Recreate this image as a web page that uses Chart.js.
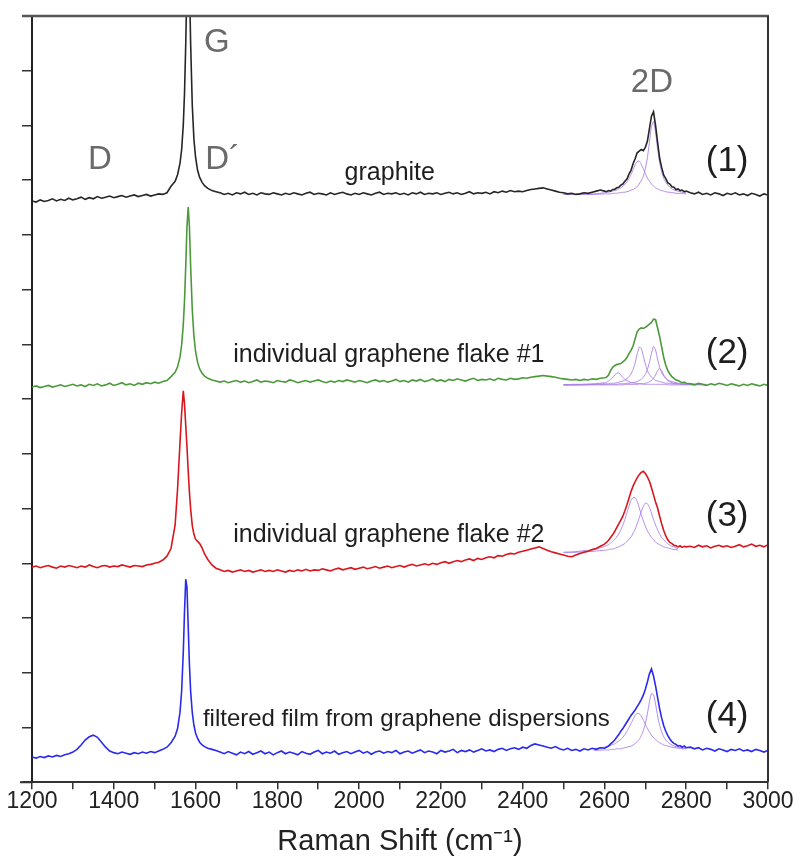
<!DOCTYPE html>
<html>
<head>
<meta charset="utf-8">
<script src="https://cdn.jsdelivr.net/npm/chart.js@4.4.1/dist/chart.umd.min.js"></script>
<style>
  html,body{margin:0;padding:0;background:#fff;}
  canvas{display:block;}
</style>
</head>
<body>
<canvas id="raman" width="795" height="861"></canvas>
<script>
/* Raman spectra, graphite vs graphene samples (stacked, offset intensities) */

// shared x grid (cm-1), finer around G and 2D
const ramanShift = [
  1200,1210,1220,1230,1240,1250,1260,1270,1280,1290,
  1300,1310,1320,1330,1340,1350,1360,1370,1380,1390,
  1400,1410,1420,1430,1440,1450,1460,1470,1480,1490,
  1500,1510,1520,1530,
  1540,1550,1556,1562,1566,1570,1573,1576,1579,1582,1585,1588,1592,1596,1600,1605,1610,1616,1622,1630,1640,1650,
  1660,1670,1680,1690,1700,1710,1720,1730,1740,1750,
  1760,1770,1780,1790,1800,1810,1820,1830,1840,1850,
  1860,1870,1880,1890,1900,1910,1920,1930,1940,1950,
  1960,1970,1980,1990,2000,2010,2020,2030,2040,2050,
  2060,2070,2080,2090,2100,2110,2120,2130,2140,2150,
  2160,2170,2180,2190,2200,2210,2220,2230,2240,2250,
  2260,2270,2280,2290,2300,2310,2320,2330,2340,2350,
  2360,2370,2380,
  2390,2400,2410,2420,2430,2440,2450,2460,2470,2480,2490,2500,2510,2520,2530,2540,2550,2560,2570,2580,2590,
  2600,2605,2610,2615,2620,2625,2630,2635,2640,2645,
  2650,2655,2660,2665,2670,2675,2680,2685,2690,2695,
  2700,2705,2710,2715,2720,2725,2730,2735,2740,2745,
  2750,2755,2760,2765,2770,2775,2780,2785,2790,2795,
  2800,
  2810,2820,2830,2840,2850,2860,2870,2880,2890,2900,
  2910,2920,2930,2940,2950,2960,2970,2980,2990,3000
];

// (1) graphite
const graphite = [
  10.62,10.60,10.64,10.61,10.63,10.66,10.62,10.65,10.63,10.67,
  10.64,10.66,10.69,10.65,10.68,10.66,10.70,10.67,10.69,10.71,
  10.68,10.70,10.72,10.69,10.71,10.73,10.70,10.72,10.74,10.71,
  10.73,10.75,10.74,10.77,
  10.89,10.98,11.10,11.31,11.56,12.01,12.59,13.49,14.63,15.25,14.63,13.49,12.37,11.75,11.42,11.18,11.05,10.96,10.90,10.85,10.81,10.79,
  10.77,10.74,10.76,10.73,10.77,10.75,10.78,10.74,10.76,10.73,
  10.77,10.75,10.74,10.77,10.75,10.73,10.76,10.74,10.77,10.75,
  10.73,10.76,10.78,10.74,10.76,10.75,10.73,10.77,10.74,10.76,
  10.78,10.75,10.73,10.76,10.74,10.77,10.75,10.73,10.76,10.78,
  10.74,10.76,10.75,10.77,10.74,10.76,10.73,10.77,10.75,10.78,
  10.74,10.76,10.75,10.77,10.74,10.76,10.78,10.75,10.77,10.74,
  10.76,10.79,10.75,10.77,10.76,10.78,10.75,10.79,10.77,10.80,
  10.78,10.81,10.79,
  10.80,10.79,10.81,10.83,10.84,10.85,10.86,10.84,10.82,10.80,10.78,10.77,10.75,10.76,10.74,10.75,10.77,10.76,10.78,10.80,10.82,
  10.80,10.79,10.81,10.80,10.83,10.83,10.86,10.87,10.91,10.93,
  10.98,11.02,11.11,11.18,11.30,11.39,11.50,11.53,11.56,11.54,
  11.60,11.71,11.94,12.17,12.25,12.00,11.69,11.40,11.23,11.09,
  11.03,10.95,10.93,10.88,10.87,10.83,10.84,10.81,10.82,10.79,
  10.80,
  10.77,10.75,10.78,10.74,10.76,10.73,10.77,10.75,10.72,10.76,
  10.74,10.77,10.73,10.75,10.72,10.76,10.74,10.71,10.75,10.73
];

// (2) individual graphene flake #1
const flake1 = [
  7.22,7.24,7.21,7.23,7.25,7.22,7.24,7.26,7.23,7.25,
  7.27,7.24,7.26,7.23,7.27,7.25,7.28,7.24,7.26,7.29,
  7.25,7.27,7.30,7.26,7.28,7.25,7.29,7.27,7.30,7.28,
  7.31,7.29,7.32,7.34,
  7.41,7.49,7.59,7.77,7.99,8.36,8.80,9.43,10.15,10.51,10.15,9.43,8.63,8.15,7.87,7.67,7.55,7.47,7.42,7.38,7.35,7.33,
  7.31,7.33,7.30,7.32,7.34,7.31,7.33,7.30,7.32,7.35,
  7.31,7.33,7.32,7.30,7.34,7.32,7.31,7.35,7.33,7.30,
  7.32,7.34,7.31,7.33,7.35,7.32,7.30,7.33,7.31,7.34,
  7.32,7.35,7.33,7.31,7.34,7.32,7.30,7.33,7.35,7.32,
  7.34,7.31,7.33,7.36,7.32,7.34,7.31,7.35,7.33,7.36,
  7.32,7.34,7.37,7.33,7.35,7.32,7.36,7.34,7.37,7.35,
  7.33,7.36,7.38,7.34,7.36,7.35,7.37,7.34,7.38,7.36,
  7.35,7.38,7.36,
  7.37,7.39,7.38,7.40,7.41,7.42,7.43,7.42,7.41,7.40,7.38,7.37,7.36,7.35,7.36,7.34,7.36,7.35,7.37,7.36,7.38,
  7.39,7.40,7.44,7.52,7.58,7.61,7.63,7.64,7.65,7.68,
  7.71,7.76,7.83,7.89,7.97,8.10,8.23,8.28,8.30,8.29,
  8.31,8.34,8.37,8.40,8.46,8.45,8.30,8.14,7.95,7.76,
  7.62,7.52,7.46,7.41,7.38,7.35,7.34,7.32,7.30,7.31,
  7.29,
  7.28,7.26,7.29,7.27,7.25,7.28,7.26,7.29,7.27,7.25,
  7.28,7.26,7.24,7.27,7.25,7.28,7.26,7.24,7.27,7.25
];

// (3) individual graphene flake #2
const flake2 = [
  3.93,3.95,3.92,3.94,3.96,3.93,3.91,3.95,3.93,3.96,
  3.94,3.92,3.95,3.93,3.97,3.94,3.92,3.95,3.96,3.93,
  3.95,3.94,3.97,3.95,3.93,3.96,3.95,3.94,3.97,3.98,
  4.00,4.02,4.06,4.13,
  4.27,4.70,5.36,6.21,6.75,7.15,6.91,6.52,6.13,5.69,5.30,4.99,4.69,4.53,4.44,4.40,4.36,4.28,4.17,4.07,3.97,3.91,
  3.88,3.85,3.87,3.84,3.86,3.88,3.85,3.87,3.84,3.86,
  3.88,3.85,3.87,3.85,3.88,3.86,3.84,3.87,3.85,3.88,
  3.86,3.89,3.86,3.88,3.87,3.90,3.88,3.86,3.89,3.91,
  3.88,3.90,3.92,3.89,3.91,3.93,3.90,3.92,3.94,3.91,
  3.93,3.95,3.92,3.94,3.96,3.93,3.96,3.98,3.95,3.97,
  3.99,3.97,4.00,3.98,4.01,4.03,4.00,4.03,4.05,4.03,
  4.06,4.08,4.05,4.09,4.07,4.10,4.12,4.10,4.14,4.13,
  4.16,4.18,4.17,
  4.20,4.22,4.24,4.26,4.28,4.30,4.27,4.24,4.21,4.19,4.17,4.15,4.13,4.12,4.15,4.18,4.20,4.22,4.25,4.27,4.31,
  4.35,4.38,4.42,4.47,4.52,4.58,4.65,4.72,4.79,4.86,
  4.96,5.07,5.19,5.31,5.41,5.49,5.56,5.62,5.66,5.68,
  5.64,5.58,5.50,5.38,5.25,5.12,5.01,4.86,4.72,4.60,
  4.50,4.43,4.38,4.36,4.33,4.32,4.30,4.32,4.29,4.31,
  4.30,
  4.31,4.29,4.33,4.30,4.32,4.28,4.31,4.33,4.30,4.32,
  4.29,4.31,4.34,4.30,4.32,4.35,4.31,4.33,4.30,4.34
];

// (4) filtered film from graphene dispersions
const filteredFilm = [
  0.46,0.44,0.47,0.45,0.48,0.46,0.49,0.47,0.50,0.52,
  0.55,0.60,0.68,0.77,0.83,0.86,0.82,0.73,0.64,0.57,
  0.54,0.52,0.55,0.53,0.51,0.54,0.52,0.55,0.53,0.56,
  0.54,0.57,0.60,0.64,
  0.72,0.84,0.98,1.28,1.67,2.38,3.12,3.71,3.56,2.85,2.15,1.66,1.27,1.04,0.90,0.80,0.73,0.68,0.65,0.62,0.60,0.58,
  0.55,0.52,0.56,0.53,0.50,0.55,0.52,0.56,0.51,0.54,
  0.57,0.52,0.55,0.50,0.54,0.57,0.52,0.55,0.53,0.50,
  0.56,0.53,0.51,0.55,0.58,0.52,0.55,0.53,0.57,0.51,
  0.54,0.56,0.52,0.55,0.58,0.53,0.56,0.51,0.55,0.57,
  0.53,0.56,0.54,0.58,0.52,0.55,0.57,0.53,0.56,0.59,
  0.54,0.57,0.55,0.52,0.58,0.55,0.57,0.60,0.54,0.58,
  0.56,0.59,0.55,0.58,0.61,0.57,0.59,0.56,0.60,0.62,
  0.58,0.61,0.63,
  0.60,0.64,0.62,0.67,0.70,0.68,0.66,0.64,0.62,0.65,0.61,0.59,0.62,0.58,0.60,0.57,0.61,0.59,0.62,0.60,0.63,
  0.62,0.64,0.66,0.70,0.73,0.77,0.82,0.87,0.93,0.98,
  1.04,1.10,1.16,1.22,1.27,1.32,1.38,1.44,1.51,1.59,
  1.70,1.83,1.98,2.07,1.94,1.76,1.55,1.34,1.17,1.03,
  0.93,0.85,0.79,0.74,0.71,0.69,0.66,0.67,0.64,0.66,
  0.63,
  0.64,0.61,0.63,0.59,0.62,0.60,0.57,0.61,0.59,0.56,
  0.60,0.58,0.61,0.57,0.59,0.56,0.60,0.58,0.55,0.58
];

// x grid of the fitted 2D components
const fitShift = [
  2500,2525,2550,2575,
  2600,2605,2610,2615,2620,2625,2630,2635,2640,2645,
  2650,2655,2660,2665,2670,2675,2680,2685,2690,2695,
  2700,2705,2710,2715,2720,2725,2730,2735,2740,2745,
  2750,2755,2760,2765,2770,2775,2780,2785,2790,2795,
  2800,2825,2850
];

const graphiteFit1 = [
  10.74,10.74,10.75,10.75,
  10.77,10.78,10.78,10.79,10.80,10.81,10.82,10.84,10.86,10.89,
  10.92,10.97,11.03,11.10,11.19,11.28,11.34,11.35,11.29,11.21,
  11.12,11.04,10.98,10.93,10.89,10.86,10.84,10.82,10.81,10.80,
  10.79,10.78,10.78,10.77,10.77,10.76,10.76,10.76,10.76,10.75,
  10.75,null,null
];
const graphiteFit2 = [
  10.74,10.74,10.74,10.74,
  10.75,10.75,10.75,10.75,10.76,10.76,10.76,10.77,10.77,10.78,
  10.78,10.79,10.80,10.82,10.83,10.85,10.88,10.93,10.99,11.07,
  11.21,11.41,11.69,11.98,12.07,11.87,11.57,11.32,11.15,11.03,
  10.96,10.91,10.87,10.84,10.82,10.81,10.80,10.79,10.78,10.77,
  10.77,null,null
];

const flake1Fit1 = [
  7.26,7.26,7.27,7.28,
  7.30,7.31,7.33,7.36,7.39,7.44,7.47,7.48,7.44,7.40,
  7.36,7.34,7.32,7.30,7.30,7.29,7.28,7.28,7.28,7.27,
  7.27,7.27,7.27,7.27,7.27,7.27,7.27,7.27,7.27,7.27,
  7.27,7.26,7.26,7.26,7.26,7.26,7.26,7.26,7.26,7.26,
  7.26,7.26,7.26
];
const flake1Fit2 = [
  7.26,7.27,7.27,7.27,
  7.28,7.28,7.28,7.29,7.29,7.29,7.30,7.31,7.32,7.33,
  7.35,7.37,7.41,7.46,7.54,7.66,7.82,7.95,7.93,7.79,
  7.64,7.52,7.45,7.40,7.37,7.34,7.33,7.32,7.31,7.30,
  7.29,7.29,7.29,7.28,7.28,7.28,7.28,7.27,7.27,7.27,
  7.27,7.27,7.26
];
const flake1Fit3 = [
  7.26,7.26,7.26,7.27,
  7.27,7.27,7.27,7.27,7.27,7.27,7.27,7.28,7.28,7.28,
  7.28,7.29,7.29,7.30,7.30,7.31,7.32,7.34,7.36,7.40,
  7.45,7.54,7.67,7.84,7.96,7.90,7.73,7.58,7.48,7.42,
  7.38,7.35,7.33,7.32,7.31,7.30,7.29,7.29,7.28,7.28,
  7.28,7.27,7.27
];
const flake1Fit4 = [
  7.26,7.26,7.26,7.26,
  7.26,7.26,7.26,7.26,7.26,7.26,7.26,7.26,7.26,7.26,
  7.27,7.27,7.27,7.27,7.27,7.27,7.27,7.28,7.28,7.28,
  7.29,7.30,7.32,7.34,7.38,7.44,7.52,7.56,7.52,7.44,
  7.38,7.34,7.32,7.30,7.29,7.28,7.28,7.28,7.27,7.27,
  7.27,7.27,7.26
];

const flake2Fit1 = [
  4.20,4.21,4.23,4.25,
  4.31,4.32,4.34,4.37,4.40,4.44,4.48,4.54,4.61,4.70,
  4.80,4.92,5.04,5.15,5.20,5.20,5.13,5.02,4.89,4.78,
  4.68,4.59,4.53,4.47,4.43,4.39,4.36,4.34,4.32,4.30,
  4.29,4.28,4.27,4.26,4.25,4.25,4.24,null,null,null,
  null,null,null
];
const flake2Fit2 = [
  4.20,4.20,4.21,4.22,
  4.24,4.24,4.25,4.26,4.26,4.27,4.29,4.30,4.32,4.34,
  4.36,4.40,4.44,4.48,4.55,4.62,4.72,4.83,4.94,5.04,
  5.10,5.09,5.02,4.92,4.80,4.70,4.61,4.53,4.47,4.43,
  4.39,4.36,4.33,4.31,4.30,4.28,4.27,null,null,null,
  null,null,null
];

const filmFit1 = [
  null,null,null,0.61,
  0.64,0.65,0.66,0.67,0.69,0.70,0.73,0.75,0.78,0.82,
  0.87,0.93,1.00,1.07,1.15,1.22,1.26,1.25,1.21,1.14,
  1.06,0.98,0.92,0.86,0.81,0.78,0.75,0.72,0.70,0.68,
  0.67,0.66,0.65,0.64,0.63,0.63,0.62,0.62,0.61,0.61,
  0.61,null,null
];
const filmFit2 = [
  null,null,null,0.58,
  0.59,0.59,0.59,0.60,0.60,0.60,0.61,0.61,0.61,0.62,
  0.63,0.64,0.65,0.66,0.68,0.71,0.74,0.78,0.85,0.94,
  1.07,1.25,1.47,1.62,1.60,1.43,1.21,1.04,0.92,0.83,
  0.77,0.73,0.70,0.68,0.66,0.65,0.64,0.63,0.62,0.62,
  0.62,null,null
];

const xTicks = [1200,1300,1400,1500,1600,1700,1800,1900,2000,2100,2200,2300,2400,2500,2600,2700,2800,2900,3000];
const xTickLabels = ['1200','','1400','','1600','','1800','','2000','','2200','','2400','','2600','','2800','','3000'];
const yTicks = [0,1,2,3,4,5,6,7,8,9,10,11,12,13,14];

const FONT = '"Liberation Sans", Arial, Helvetica, sans-serif';

// text placed in data coordinates
const notes = [
  {text:'G',  x:1652, y:13.50, size:33, color:'#6a6a6a'},
  {text:'D',  x:1366, y:11.37, size:33, color:'#6a6a6a'},
  {text:'D´', x:1666, y:11.37, size:33, color:'#6a6a6a'},
  {text:'2D', x:2716, y:12.77, size:33, color:'#6a6a6a'},
  {text:'graphite', x:2075, y:11.13, size:25, color:'#1e1e1e'},
  {text:'individual graphene flake #1', x:1692, y:7.81, size:25, color:'#1e1e1e', align:'left'},
  {text:'individual graphene flake #2', x:1692, y:4.51, size:25, color:'#1e1e1e', align:'left'},
  {text:'filtered film from graphene dispersions', x:1618, y:1.15, size:24, color:'#1e1e1e', align:'left'},
  {text:'(1)', x:2900, y:11.35, size:35, color:'#1e1e1e'},
  {text:'(2)', x:2900, y:7.83, size:35, color:'#1e1e1e'},
  {text:'(3)', x:2900, y:4.85, size:35, color:'#1e1e1e'},
  {text:'(4)', x:2900, y:1.20, size:35, color:'#1e1e1e'}
];

function pts(xs, ys){
  return xs.map((x,i)=>({x:x, y:ys[i]}));
}

function spectrum(data, color){
  return {data:pts(ramanShift, data), borderColor:color, borderWidth:1.6, pointRadius:0, tension:0, fill:false};
}
function fit(data){
  return {data:pts(fitShift, data), borderColor:'rgba(172,128,232,0.9)', borderWidth:1, pointRadius:0, tension:0.2, fill:false, spanGaps:false};
}

const notesPlugin = {
  id:'notes',
  afterDatasetsDraw(chart){
    const {ctx, scales:{x, y}} = chart;
    ctx.save();
    notes.forEach(n=>{
      ctx.font = n.size + 'px ' + FONT;
      ctx.fillStyle = n.color;
      ctx.textAlign = n.align || 'center';
      ctx.textBaseline = 'middle';
      ctx.fillText(n.text, x.getPixelForValue(n.x), y.getPixelForValue(n.y));
    });
    ctx.restore();
  }
};

// top and right frame lines
const framePlugin = {
  id:'frame',
  afterDraw(chart){
    const {ctx, chartArea:a} = chart;
    ctx.save();
    ctx.strokeStyle = '#555';
    ctx.lineWidth = 2.5;
    ctx.beginPath();
    ctx.moveTo(a.left - 10, a.top);
    ctx.lineTo(a.right + 1, a.top);
    ctx.stroke();
    ctx.strokeStyle = '#333';
    ctx.lineWidth = 2;
    ctx.beginPath();
    ctx.moveTo(a.right, a.top);
    ctx.lineTo(a.right, a.bottom);
    ctx.moveTo(a.left - 12, a.bottom);
    ctx.lineTo(a.left, a.bottom);
    ctx.stroke();
    ctx.restore();
  }
};

new Chart(document.getElementById('raman'), {
  type:'line',
  data:{
    datasets:[
      spectrum(graphite, '#262626'),
      spectrum(flake1, '#4b9a3a'),
      spectrum(flake2, '#d9161e'),
      spectrum(filteredFilm, '#2a2aef'),
      fit(graphiteFit1), fit(graphiteFit2),
      fit(flake1Fit1), fit(flake1Fit2), fit(flake1Fit3), fit(flake1Fit4),
      fit(flake2Fit1), fit(flake2Fit2),
      fit(filmFit1), fit(filmFit2)
    ]
  },
  options:{
    responsive:false,
    animation:false,
    devicePixelRatio:1,
    layout:{padding:{left:22, right:27, top:16, bottom:2}},
    plugins:{legend:{display:false}, tooltip:{enabled:false}},
    scales:{
      x:{
        type:'linear', min:1200, max:3000,
        afterBuildTicks(s){ s.ticks = xTicks.map(v=>({value:v})); },
        ticks:{autoSkip:false, maxRotation:0, padding:1, color:'#222', font:{family:FONT, size:23, lineHeight:1},
          callback(v, i){ return xTickLabels[i]; }},
        grid:{drawOnChartArea:false, drawTicks:true, tickLength:7, color:'#333', lineWidth:1.5},
        border:{display:true, color:'#333', width:2},
        title:{display:true, text:'Raman Shift (cm⁻¹)', color:'#222', font:{family:FONT, size:29}, padding:{top:10, bottom:0}}
      },
      y:{
        min:0, max:14,
        afterBuildTicks(s){ s.ticks = yTicks.map(v=>({value:v})); },
        ticks:{display:false},
        grid:{drawOnChartArea:false, drawTicks:true, tickLength:10, color:'#333', lineWidth:1.5},
        border:{display:true, color:'#222', width:2}
      }
    }
  },
  plugins:[notesPlugin, framePlugin]
});
</script>
</body>
</html>
